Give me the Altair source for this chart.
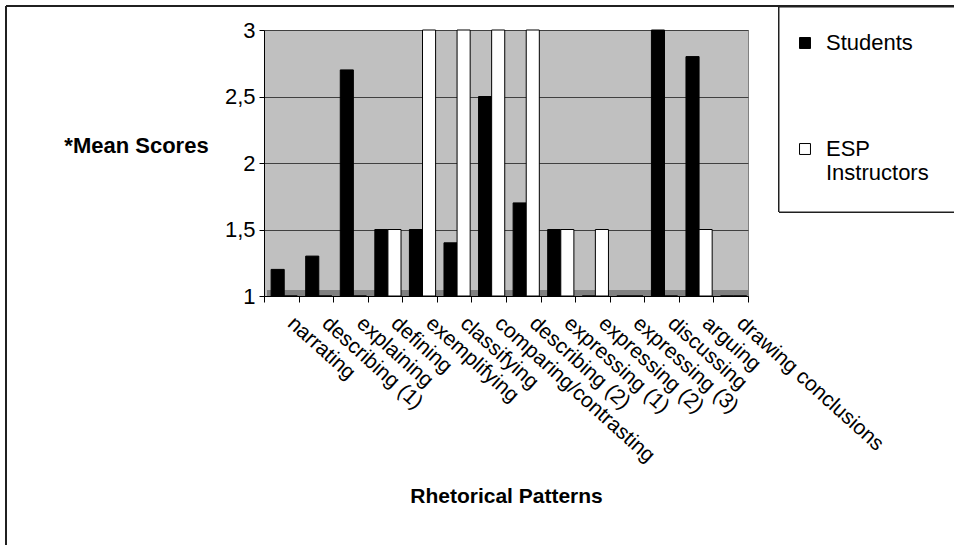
import altair as alt
import pandas as pd

categories = ["narrating", "describing (1)", "explaining", "defining", "exemplifying",
              "classifying", "comparing/contrasting", "describing (2)", "expressing (1)",
              "expressing (2)", "expressing (3)", "discussing", "arguing", "drawing conclusions"]
students = [1.2, 1.3, 2.7, 1.5, 1.5, 1.4, 2.5, 1.7, 1.5, 1.0, 1.0, 3.0, 2.8, 1.0]
esp = [1.0, 1.0, 1.0, 1.5, 3.0, 3.0, 3.0, 3.0, 1.5, 1.5, 1.0, 1.0, 1.5, 1.0]
series = ["Students", "ESP Instructors"]
y_ticks = [1, 1.5, 2, 2.5, 3]

rows = []
for c, s, e in zip(categories, students, esp):
    rows.append({"pattern": c, "series": series[0], "score": s})
    rows.append({"pattern": c, "series": series[1], "score": e})
df = pd.DataFrame(rows)

W, H = 484, 266
LEFT, TOP = 264, 30
FONT = "Liberation Sans"

x_enc = alt.X(
    "pattern:N", sort=categories,
    scale=alt.Scale(paddingInner=0, paddingOuter=0),
    axis=alt.Axis(
        title="Rhetorical Patterns", titleFont=FONT, titleFontSize=21, titleFontWeight="bold",
        titleColor="black", titleY=200, titleBaseline="middle",
        labelFont=FONT, labelFontSize=21, labelColor="black", labelAngle=42,
        labelAlign="left", labelBaseline="top", labelOffset=16, labelPadding=10,
        labelOverlap=False, labelLimit=400,
        tickBand="extent", tickSize=6, tickColor="black", domainColor="black",
        grid=False,
    ),
)
y_enc = alt.Y(
    "score:Q",
    scale=alt.Scale(domain=[1, 3], zero=False, nice=False),
    axis=alt.Axis(
        title="*Mean Scores", titleFont=FONT, titleFontSize=22, titleFontWeight="bold",
        titleColor="black", titleAngle=0, titleX=-128, titleY=115, titleAlign="center",
        titleBaseline="middle",
        values=y_ticks, labelExpr="replace(format(datum.value, '.1~f'), '.', ',')",
        labelFont=FONT, labelFontSize=22, labelColor="black", labelPadding=4,
        tickSize=5, tickColor="black", domainColor="black",
        grid=True, gridColor="#404040", gridWidth=1,
    ),
)

frame_top = alt.Chart(df).mark_rule(color="#202020", strokeWidth=2).encode(
    x=alt.value(-258), x2=alt.value(700), y=alt.value(-24))
frame_left = alt.Chart(df).mark_rule(color="#202020", strokeWidth=2).encode(
    x=alt.value(-258), y=alt.value(-24), y2=alt.value(520))
legend_box = alt.Chart(df).mark_rect(fill="white", stroke="#202020", strokeWidth=1).encode(
    x=alt.value(515), x2=alt.value(700), y=alt.value(-23), y2=alt.value(182))
floor = alt.Chart(df).mark_rect(fill="#808080").encode(
    x=alt.value(3), x2=alt.value(W), y=alt.value(H - 6), y2=alt.value(H))

bars = alt.Chart(df).mark_bar(stroke="black", strokeWidth=1).encode(
    x=x_enc,
    xOffset=alt.XOffset("series:N", sort=series,
                        scale=alt.Scale(paddingInner=0, paddingOuter=0.32, align=0.85)),
    y=y_enc,
    y2=alt.datum(1),
    fill=alt.Fill(
        "series:N", sort=series,
        scale=alt.Scale(domain=series, range=["#000000", "#ffffff"]),
        legend=alt.Legend(
            title=None, orient="none", legendX=530, legendY=2,
            symbolType="square", symbolSize=120, symbolStrokeColor="black",
            symbolStrokeWidth=1, labelFont=FONT, labelFontSize=22, labelColor="black",
            labelOffset=10, rowPadding=84, labelLimit=300,
            labelExpr="datum.label == 'ESP Instructors' ? ['ESP', 'Instructors'] : datum.label",
        ),
    ),
)

chart = alt.layer(frame_top, frame_left, legend_box, floor, bars).properties(
    width=W, height=H,
    autosize=alt.AutoSizeParams(type="none"),
    padding={"left": LEFT, "top": TOP, "right": 954 - LEFT - W, "bottom": 545 - TOP - H},
    background="white",
).configure_view(fill="#C0C0C0", stroke="#808080", strokeWidth=1)

chart.save("out.html", embed_options={"renderer": "svg", "actions": False})
